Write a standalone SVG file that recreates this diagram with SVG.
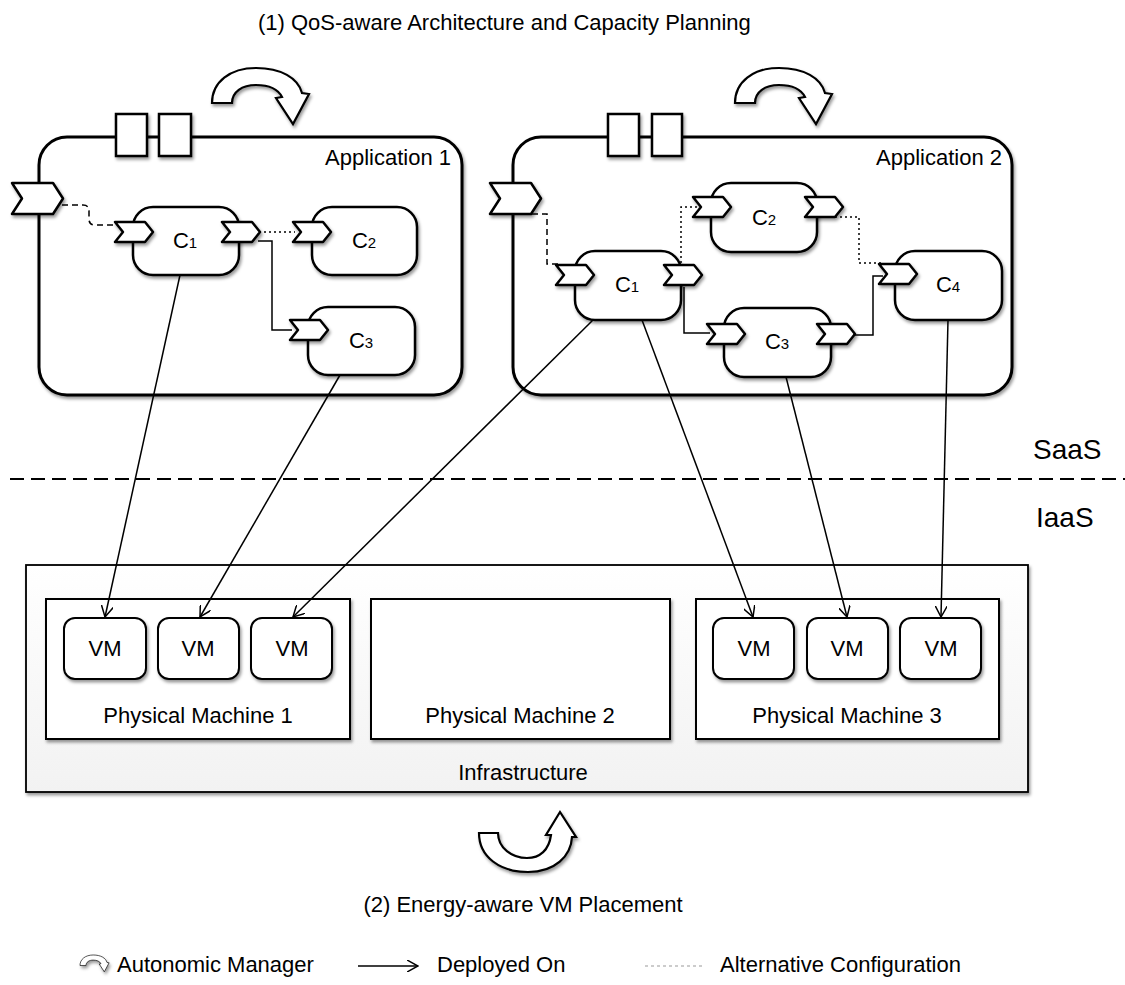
<svg xmlns="http://www.w3.org/2000/svg" xmlns:xlink="http://www.w3.org/1999/xlink" width="1125" height="985" viewBox="0 0 1125 985">
<style>
text{font-family:"Liberation Sans",Arial,Helvetica,sans-serif;fill:#000}
.box{fill:#fff;stroke:#000;stroke-width:3}
.comp{fill:#fff;stroke:#000;stroke-width:2.5}
.vm{fill:#fff;stroke:#000;stroke-width:2}
.pm{fill:#fff;stroke:#000;stroke-width:2}
.infra{fill:url(#ig);stroke:#000;stroke-width:1.8}
.port{fill:#fff;stroke:#000;stroke-width:2.5;stroke-linejoin:round}
.mgr{fill:#fff;stroke:#000;stroke-width:2.2;stroke-linejoin:miter}
.dep{fill:none;stroke:#000;stroke-width:1.5}
.dash{fill:none;stroke:#000;stroke-width:1.5;stroke-dasharray:6 4}
.dot{fill:none;stroke:#000;stroke-width:1.5;stroke-dasharray:2 3}
.wire{fill:none;stroke:#000;stroke-width:1.5}
.lbl{font-size:22px;text-anchor:middle}
.cl{font-size:22px;text-anchor:middle}
.sub{font-size:15px}
.leg{font-size:22px}
</style>
<defs>
<linearGradient id="ig" x1="0" y1="0" x2="0" y2="1"><stop offset="0" stop-color="#ffffff"/><stop offset="1" stop-color="#f2f2f2"/></linearGradient>
<filter id="sh" x="-20%" y="-20%" width="150%" height="160%"><feDropShadow dx="1.5" dy="2.5" stdDeviation="1.5" flood-color="#000" flood-opacity="0.4"/></filter>
<marker id="ah" viewBox="0 0 12 12" refX="11" refY="6" markerWidth="12" markerHeight="12" markerUnits="userSpaceOnUse" orient="auto"><path d="M0,0 L11,6 L0,12" fill="none" stroke="#000" stroke-width="1.5"/></marker>
<path id="port" class="port" d="M0,0 H30 L38,10 L30,20 H0 L8,10 Z"/>
<path id="eport" class="port" d="M0,0 H41 L51,15.5 L41,31 H0 L10,15.5 Z"/>
<path id="mgr" class="mgr" d="M212,103 C212,82 230,68 256,68 C281,68 298,78 302,93 L309,94 L293,124 L276,98 L282,97 C278,89 268,85 256,85 C242,85 232,92 232,103 Z"/>
</defs>

<text x="258" y="30" font-size="22">(1) QoS-aware Architecture and Capacity Planning</text>

<g id="manager1" filter="url(#sh)"><use xlink:href="#mgr"/></g>
<g id="manager2" filter="url(#sh)"><use xlink:href="#mgr" transform="translate(523,0)"/></g>

<g id="application1">
<rect class="box" x="39" y="137" width="423" height="258" rx="28" filter="url(#sh)"/>
<rect class="comp" x="116" y="114" width="31" height="42" filter="url(#sh)"/>
<rect class="comp" x="159" y="114" width="32" height="42" filter="url(#sh)"/>
<text x="451" y="165" font-size="22" text-anchor="end">Application 1</text>
<g filter="url(#sh)"><use xlink:href="#eport" x="12" y="183"/></g>
</g>
<g id="app1-c1">
<rect class="comp" x="133" y="207" width="106" height="68" rx="20" filter="url(#sh)"/>
<g filter="url(#sh)"><use xlink:href="#port" x="115" y="222"/><use xlink:href="#port" x="222" y="222"/></g>
<text class="cl" x="185" y="248">C<tspan class="sub">1</tspan></text>
</g>
<g id="app1-c2">
<rect class="comp" x="312" y="207" width="105" height="68" rx="20" filter="url(#sh)"/>
<g filter="url(#sh)"><use xlink:href="#port" x="293" y="222"/></g>
<text class="cl" x="364" y="248">C<tspan class="sub">2</tspan></text>
</g>
<g id="app1-c3">
<rect class="comp" x="308" y="307" width="107" height="68" rx="20" filter="url(#sh)"/>
<g filter="url(#sh)"><use xlink:href="#port" x="290" y="320"/></g>
<text class="cl" x="361" y="348">C<tspan class="sub">3</tspan></text>
</g>

<g id="application2">
<rect class="box" x="513" y="137" width="499" height="258" rx="28" filter="url(#sh)"/>
<rect class="comp" x="608" y="114" width="31" height="42" filter="url(#sh)"/>
<rect class="comp" x="652" y="114" width="30" height="42" filter="url(#sh)"/>
<text x="1002" y="165" font-size="22" text-anchor="end">Application 2</text>
<g filter="url(#sh)"><use xlink:href="#eport" x="490" y="183"/></g>
</g>
<g id="app2-c1">
<rect class="comp" x="575" y="251" width="106" height="69" rx="20" filter="url(#sh)"/>
<g filter="url(#sh)"><use xlink:href="#port" x="556" y="265"/><use xlink:href="#port" x="664" y="265"/></g>
<text class="cl" x="627" y="292">C<tspan class="sub">1</tspan></text>
</g>
<g id="app2-c2">
<rect class="comp" x="711" y="183" width="106" height="69" rx="20" filter="url(#sh)"/>
<g filter="url(#sh)"><use xlink:href="#port" x="693" y="197"/><use xlink:href="#port" x="805" y="197"/></g>
<text class="cl" x="764" y="225">C<tspan class="sub">2</tspan></text>
</g>
<g id="app2-c3">
<rect class="comp" x="724" y="308" width="107" height="69" rx="20" filter="url(#sh)"/>
<g filter="url(#sh)"><use xlink:href="#port" x="707" y="324"/><use xlink:href="#port" x="817" y="324"/></g>
<text class="cl" x="777" y="349">C<tspan class="sub">3</tspan></text>
</g>
<g id="app2-c4">
<rect class="comp" x="895" y="251" width="107" height="69" rx="20" filter="url(#sh)"/>
<g filter="url(#sh)"><use xlink:href="#port" x="879" y="264"/></g>
<text class="cl" x="948" y="292">C<tspan class="sub">4</tspan></text>
</g>

<g id="separator">
<line x1="10" y1="479" x2="1125" y2="479" stroke="#000" stroke-width="2" stroke-dasharray="14 7"/>
<text x="1033" y="459" font-size="28">SaaS</text>
<text x="1036" y="527" font-size="28">IaaS</text>
</g>

<g id="infrastructure">
<rect class="infra" x="26" y="565" width="1002" height="227" filter="url(#sh)"/>
<text class="lbl" x="523" y="780">Infrastructure</text>
</g>
<g id="pm1">
<rect class="pm" x="46" y="599" width="304" height="140" filter="url(#sh)"/>
<text class="lbl" x="198" y="723">Physical Machine 1</text>
</g>
<g id="pm2">
<rect class="pm" x="371" y="599" width="299" height="140" filter="url(#sh)"/>
<text class="lbl" x="520" y="723">Physical Machine 2</text>
</g>
<g id="pm3">
<rect class="pm" x="696" y="599" width="303" height="140" filter="url(#sh)"/>
<text class="lbl" x="847" y="723">Physical Machine 3</text>
</g>
<g id="vm1-1"><rect class="vm" x="64" y="618" width="82" height="61" rx="11" filter="url(#sh)"/><text class="lbl" x="105" y="656">VM</text></g>
<g id="vm1-2"><rect class="vm" x="158" y="618" width="81" height="61" rx="11" filter="url(#sh)"/><text class="lbl" x="198" y="656">VM</text></g>
<g id="vm1-3"><rect class="vm" x="251" y="618" width="81" height="61" rx="11" filter="url(#sh)"/><text class="lbl" x="292" y="656">VM</text></g>
<g id="vm3-1"><rect class="vm" x="713" y="618" width="81" height="61" rx="11" filter="url(#sh)"/><text class="lbl" x="754" y="656">VM</text></g>
<g id="vm3-2"><rect class="vm" x="807" y="618" width="81" height="61" rx="11" filter="url(#sh)"/><text class="lbl" x="847" y="656">VM</text></g>
<g id="vm3-3"><rect class="vm" x="900" y="618" width="81" height="61" rx="11" filter="url(#sh)"/><text class="lbl" x="941" y="656">VM</text></g>

<g id="connectors">
<path class="dash" d="M62,205 H83 Q89,205 89,211 V219 Q89,225 95,225 H117"/>
<path class="dot" d="M259,232 H295"/>
<path class="wire" d="M258,241 H272 V330 H292"/>
<path class="dash" d="M532,214 H547 V264 H560"/>
<path class="dot" d="M681,263 V207 H697"/>
<path class="dot" d="M835,217 H859 V263 H882"/>
<path class="wire" d="M684,287 V333 H710"/>
<path class="wire" d="M853,335 H873 V276 H883"/>
<line class="dep" x1="180" y1="275" x2="105" y2="617" marker-end="url(#ah)"/>
<line class="dep" x1="340" y1="375" x2="200" y2="617" marker-end="url(#ah)"/>
<line class="dep" x1="593" y1="320" x2="293" y2="617" marker-end="url(#ah)"/>
<line class="dep" x1="642" y1="320" x2="753" y2="617" marker-end="url(#ah)"/>
<line class="dep" x1="786" y1="377" x2="847" y2="617" marker-end="url(#ah)"/>
<line class="dep" x1="948" y1="320" x2="941" y2="617" marker-end="url(#ah)"/>
</g>

<g id="manager3" filter="url(#sh)">
<path class="mgr" d="M479,833 C479,857 500,872 528,872 C555,872 571,856 572,837 L576,837 L560,812 L546,835 L551,835 C549,850 540,858 527,858 C512,858 498,848 498,833 Z"/>
</g>
<text x="523" y="912" font-size="22" text-anchor="middle">(2) Energy-aware VM Placement</text>

<g id="legend">
<g filter="url(#sh)"><use xlink:href="#mgr" transform="translate(80,955) scale(0.3) translate(-212,-68)"/></g>
<text class="leg" x="117" y="972">Autonomic Manager</text>
<line class="dep" x1="358" y1="966" x2="418" y2="966" marker-end="url(#ah)"/>
<text class="leg" x="437" y="972">Deployed On</text>
<line x1="645" y1="966" x2="703" y2="966" stroke="#999" stroke-width="1.2" stroke-dasharray="3 3"/>
<text class="leg" x="720" y="972">Alternative Configuration</text>
</g>
</svg>
